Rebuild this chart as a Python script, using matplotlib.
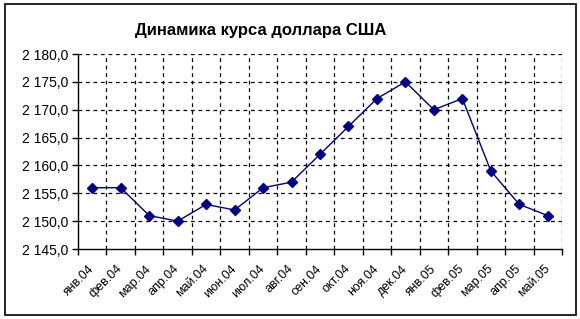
import matplotlib
matplotlib.use("Agg")
import matplotlib.pyplot as plt
from matplotlib.patches import Rectangle
from matplotlib.transforms import ScaledTranslation

plt.rcParams.update({
    "font.family": ["Liberation Sans", "DejaVu Sans"],
    "font.size": 10,
})

months = ["янв.04", "фев.04", "мар.04", "апр.04", "май.04", "июн.04", "июл.04",
          "авг.04", "сен.04", "окт.04", "ноя.04", "дек.04", "янв.05", "фев.05",
          "мар.05", "апр.05", "май.05"]
rate = [2156, 2156, 2151, 2150, 2153, 2152, 2156, 2157, 2162, 2167, 2172,
        2175, 2170, 2172, 2159, 2153, 2151]
y_ticks = [2145, 2150, 2155, 2160, 2165, 2170, 2175, 2180]

navy = "#000080"

fig = plt.figure(figsize=(5.8, 3.19), dpi=100)
# outer chart border
fig.patches.append(Rectangle((5 / 580, 4 / 319), 571 / 580, 311 / 319,
                             transform=fig.transFigure, fill=False,
                             edgecolor="black", lw=1.2))

ax = fig.add_axes([78 / 580, 70 / 319, 484 / 580, 195 / 319])

x = [i + 0.5 for i in range(len(months))]
ax.plot(x, rate, color=navy, lw=1, marker="D", markersize=5.5,
        markerfacecolor=navy, markeredgecolor=navy, zorder=3, clip_on=False)

ax.set_xlim(0, len(months))
ax.set_ylim(y_ticks[0], y_ticks[-1])

# grid: dashed lines at category boundaries and each y step
dash = (0, (3, 3))
for b in range(1, len(months) + 1):
    ax.axvline(b, color="black", lw=0.9, linestyle=dash, zorder=1)
for v in y_ticks[1:]:
    ax.axhline(v, color="black", lw=0.9, linestyle=dash, zorder=1)

ax.set_yticks(y_ticks)
ax.set_yticklabels([f"{v // 1000} {v % 1000:03d},0" for v in y_ticks])

ax.set_xticks(x)
ax.set_xticklabels(months, rotation=45, ha="right", va="center",
                   rotation_mode="anchor", fontsize=9)
shift = ScaledTranslation(-11.5 / 72, 0, fig.dpi_scale_trans)
for lbl in ax.get_xticklabels():
    lbl.set_transform(lbl.get_transform() + shift)
ax.set_xticks(range(len(months) + 1), minor=True)
ax.tick_params(axis="x", which="major", length=0, pad=13)
ax.tick_params(axis="x", which="minor", length=4, width=1, direction="out")
ax.tick_params(axis="y", length=4, width=1, direction="out", pad=3)

for s in ("top", "right"):
    ax.spines[s].set_visible(False)
for s in ("left", "bottom"):
    ax.spines[s].set_linewidth(1)

fig.text(0.449, 1 - 30 / 319, "Динамика курса доллара США", ha="center",
         va="center", fontsize=12, fontweight="bold")

fig.savefig("out.png", dpi=100, facecolor="white")
